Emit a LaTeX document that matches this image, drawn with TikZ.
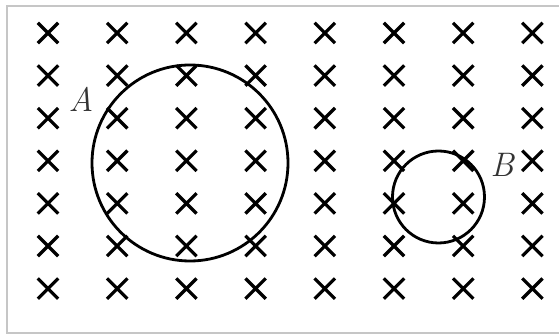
\documentclass[tikz,border=0pt]{standalone}
\usepackage{tikz}
\usetikzlibrary{shapes.misc}

\begin{document}
\begin{tikzpicture}[
  x=0.5pt, y=-0.5pt,
  fieldx/.style={cross out, draw, line width=1.6pt, minimum size=8.6pt, inner sep=0pt},
  loop/.style={draw, line width=1.4pt},
  lbl/.style={font=\fontsize{17}{17}\selectfont\itshape, text=black!80, inner sep=0pt}
]
  \useasboundingbox (0,0) rectangle (559,335);
  \draw[gray!45, line width=1pt] (559,6.5) -- (7,6.5) -- (7,333) -- (559,333);

  % field into the page
  \foreach \i in {0,...,7} {
    \foreach \j in {0,...,6} {
      \node[fieldx] (x-\i-\j) at ({48+69.2*\i},{33+42.6*\j}) {};
    }
  }

  % the two loops
  \node[loop, circle, minimum size=98pt, inner sep=0pt] (loopA) at (190,163) {};
  \node[loop, circle, minimum size=46pt, inner sep=0pt] (loopB) at (438.5,197) {};

  \node[lbl] (labA) at (81,99) {A};
  \node[lbl] (labB) at (502,165) {B};
\end{tikzpicture}
\end{document}
